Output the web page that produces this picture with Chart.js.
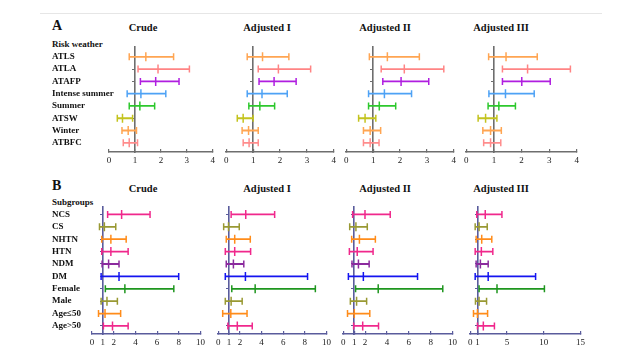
<!DOCTYPE html>
<html>
<head>
<meta charset="utf-8">
<script src="https://cdn.jsdelivr.net/npm/chart.js@4.4.1/dist/chart.umd.min.js"></script>
<style>
  body { margin: 0; background: #fff; width: 628px; height: 354px; position: relative; overflow: hidden;
         font-family: "Liberation Serif", "Times New Roman", serif; }
  .topline { position: absolute; left: 40px; top: 13px; width: 562px; height: 1px; background: #e6e6e6; }
  .txt { position: absolute; font-weight: bold; color: #111; white-space: nowrap; line-height: 1; transform: translateY(-50%); }
  .ttl { position: absolute; font-weight: bold; color: #111; white-space: nowrap; line-height: 1; font-size: 10.5px; transform: translate(-50%, -50%); }
  canvas { position: absolute; }
</style>
</head>
<body>
<div class="topline"></div>
<div class="txt" style="left:52px; top:26px; font-size:14px;">A</div>
<div class="txt" style="left:52px; top:186px; font-size:14px;">B</div>
<div class="txt" style="left:52px; top:44px; font-size:9px;">Risk weather</div>
<div class="txt" style="left:52px; top:202px; font-size:9px;">Subgroups</div>
<div class="ttl" style="left:143px; top:28px;">Crude</div>
<div class="ttl" style="left:267px; top:28px;">Adjusted I</div>
<div class="ttl" style="left:385px; top:28px;">Adjusted II</div>
<div class="ttl" style="left:501px; top:28px;">Adjusted III</div>
<div class="ttl" style="left:143px; top:189px;">Crude</div>
<div class="ttl" style="left:267px; top:189px;">Adjusted I</div>
<div class="ttl" style="left:385px; top:189px;">Adjusted II</div>
<div class="ttl" style="left:501px; top:189px;">Adjusted III</div>
<script>
// Panel A: risk weather (odds ratio with 95% CI)
const weatherLabels = ['ATLS', 'ATLA', 'ATAFP', 'Intense summer', 'Summer', 'ATSW', 'Winter', 'ATBFC'];

const weatherCrudeLo = [0.78, 1.12, 1.21, 0.70, 0.78, 0.32, 0.50, 0.55];
const weatherCrudeOR = [1.42, 1.89, 1.80, 1.23, 1.19, 0.52, 0.74, 0.78];
const weatherCrudeHi = [2.49, 3.10, 2.70, 2.19, 1.76, 0.91, 1.06, 1.10];

const weatherAdj1Lo = [0.78, 1.19, 1.22, 0.78, 0.84, 0.41, 0.59, 0.63];
const weatherAdj1OR = [1.35, 1.94, 1.78, 1.33, 1.25, 0.63, 0.83, 0.85];
const weatherAdj1Hi = [2.33, 3.14, 2.60, 2.27, 1.80, 1.00, 1.19, 1.19];

const weatherAdj2Lo = [0.86, 1.30, 1.36, 0.83, 0.83, 0.46, 0.64, 0.64];
const weatherAdj2OR = [1.53, 2.16, 2.04, 1.42, 1.23, 0.70, 0.89, 0.89];
const weatherAdj2Hi = [2.72, 3.63, 3.07, 2.43, 1.84, 1.10, 1.28, 1.22];

const weatherAdj3Lo = [0.81, 1.31, 1.31, 0.82, 0.79, 0.43, 0.60, 0.63];
const weatherAdj3OR = [1.44, 2.22, 2.01, 1.42, 1.18, 0.70, 0.88, 0.88];
const weatherAdj3Hi = [2.57, 3.77, 3.04, 2.46, 1.78, 1.11, 1.27, 1.25];

const weatherTicks = [0, 1, 2, 3, 4];

// Panel B: subgroups
const groupLabels = ['NCS', 'CS', 'NHTN', 'HTN', 'NDM', 'DM', 'Female', 'Male', 'Age\u226450', 'Age>50'];

const groupCrudeLo = [1.44, 0.69, 0.90, 0.90, 0.93, 0.84, 1.23, 0.84, 0.60, 1.05];
const groupCrudeOR = [2.73, 1.14, 1.74, 1.74, 1.53, 2.49, 3.03, 1.38, 1.20, 1.89];
const groupCrudeHi = [5.35, 2.19, 3.15, 3.33, 2.49, 7.99, 7.54, 2.34, 2.64, 3.33];

const groupAdj1Lo = [1.19, 0.50, 0.74, 0.65, 0.74, 0.65, 1.25, 0.65, 0.41, 0.89];
const groupAdj1OR = [2.54, 0.95, 1.52, 1.52, 1.40, 2.51, 3.41, 1.19, 1.16, 1.76];
const groupAdj1Hi = [5.21, 1.94, 2.96, 2.99, 2.36, 8.25, 8.97, 2.21, 2.66, 3.14];

const groupAdj2Lo = [0.86, 0.59, 0.77, 0.56, 0.80, 0.47, 1.13, 0.65, 0.39, 0.95];
const groupAdj2OR = [1.99, 1.16, 1.48, 1.28, 1.39, 1.84, 3.20, 1.22, 1.01, 1.78];
const groupAdj2Hi = [4.30, 2.20, 2.94, 2.73, 2.37, 6.80, 9.11, 2.14, 2.43, 3.23];

const groupAdj3Lo = [0.89, 0.67, 0.80, 0.67, 0.80, 0.67, 1.20, 0.71, 0.44, 0.98];
const groupAdj3OR = [2.04, 1.20, 1.56, 1.51, 1.38, 2.44, 3.64, 1.20, 0.98, 1.78];
const groupAdj3Hi = [4.31, 2.31, 2.93, 3.07, 2.44, 8.89, 10.09, 2.22, 2.36, 3.29];

const groupTicks = [0, 1, 2, 4, 6, 8, 10];
const groupTicksWide = [0, 1, 5, 10, 15];

// colours
const weatherColors = ['#ffa552', '#ff8484', '#b01ee0', '#4ea2f5', '#2dc82d', '#c3c31e', '#ffa552', '#ff8c8c'];
const groupColors = ['#f0288c', '#999933', '#ff8c1a', '#f0288c', '#8b2a9e', '#1414f0', '#1e961e', '#999933', '#ff8c1a', '#f0288c'];

const FONT = '"Liberation Serif", "Times New Roman", serif';

function forestChart(o) {
  const canvas = document.createElement('canvas');
  canvas.width = o.w;
  canvas.height = o.h;
  canvas.style.left = o.left + 'px';
  canvas.style.top = o.top + 'px';
  document.body.appendChild(canvas);

  const rowTicks = s => { s.ticks = o.labels.map((_, i) => ({ value: i })); };

  const datasets = o.labels.map((lab, i) => ({
    label: lab,
    data: [{ x: o.lo[i], y: i }, { x: o.or[i], y: i }, { x: o.hi[i], y: i }],
    showLine: true,
    borderColor: o.colors[i],
    borderWidth: 1.8,
    pointStyle: 'line',
    pointRotation: 90,
    pointRadius: [3.5, 4.5, 3.5],
    pointBorderColor: o.colors[i],
    pointBorderWidth: 1.5,
    yAxisID: 'y'
  }));

  return new Chart(canvas.getContext('2d'), {
    type: 'scatter',
    data: { datasets },
    options: {
      responsive: false,
      animation: false,
      events: [],
      layout: { padding: { top: 7, bottom: 0, left: o.labelW ? 0 : 8, right: 8 } },
      plugins: { legend: { display: false }, tooltip: { enabled: false } },
      scales: {
        x: {
          type: 'linear', position: 'bottom', min: 0, max: o.ticks[o.ticks.length - 1],
          afterBuildTicks: s => { s.ticks = o.ticks.map(v => ({ value: v })); },
          afterFit: s => { s.height = 20; },
          border: { display: true, color: o.axisColor, width: 1.6 },
          grid: { display: true, drawOnChartArea: false, drawTicks: true, tickLength: -3, color: o.axisColor, lineWidth: 1.2 },
          ticks: { autoSkip: false, maxRotation: 0, padding: 6, color: '#222', font: { family: FONT, size: 9 } }
        },
        y: {
          // row labels: mirrored so long names may run into the plot area without being clipped
          type: 'linear', position: 'left', reverse: true, min: o.yMin, max: o.yMax,
          display: !!o.labelW,
          afterBuildTicks: rowTicks,
          afterFit: s => { s.width = o.labelW || 0; },
          border: { display: false },
          grid: { display: false, drawTicks: false },
          ticks: {
            mirror: true, crossAlign: 'near', padding: -(o.labelW || 0),
            autoSkip: false, color: '#111',
            font: { family: FONT, size: 9, weight: 'bold' },
            callback: v => o.labels[v]
          }
        },
        yr: {
          type: 'linear', position: { x: 1 }, reverse: true, min: o.yMin, max: o.yMax,
          afterBuildTicks: rowTicks,
          border: { display: true, color: o.axisColor, width: 1.6 },
          grid: { display: true, drawOnChartArea: false, drawTicks: true, tickLength: 2, color: o.axisColor, lineWidth: 1 },
          ticks: { display: false }
        }
      }
    }
  });
}

document.addEventListener('DOMContentLoaded', function() {
  const gray = '#6e6e6e';
  const slate = '#5a5c9c';

  // row A
  const a = { labels: weatherLabels, colors: weatherColors, ticks: weatherTicks, axisColor: gray,
              yMin: -0.8, yMax: 7.75, top: 40, h: 132 };
  forestChart({ ...a, left: 52, w: 169, labelW: 57, lo: weatherCrudeLo, or: weatherCrudeOR, hi: weatherCrudeHi });
  forestChart({ ...a, left: 218, w: 124, lo: weatherAdj1Lo, or: weatherAdj1OR, hi: weatherAdj1Hi });
  forestChart({ ...a, left: 338, w: 124, lo: weatherAdj2Lo, or: weatherAdj2OR, hi: weatherAdj2Hi });
  forestChart({ ...a, left: 458, w: 127, lo: weatherAdj3Lo, or: weatherAdj3OR, hi: weatherAdj3Hi });

  // row B
  const b = { labels: groupLabels, colors: groupColors, axisColor: slate,
              yMin: -0.6, yMax: 9.65, top: 200, h: 154 };
  forestChart({ ...b, ticks: groupTicks, left: 52, w: 159, labelW: 40, lo: groupCrudeLo, or: groupCrudeOR, hi: groupCrudeHi });
  forestChart({ ...b, ticks: groupTicks, left: 210, w: 127, lo: groupAdj1Lo, or: groupAdj1OR, hi: groupAdj1Hi });
  forestChart({ ...b, ticks: groupTicks, left: 335, w: 128, lo: groupAdj2Lo, or: groupAdj2OR, hi: groupAdj2Hi });
  forestChart({ ...b, ticks: groupTicksWide, left: 462, w: 129, lo: groupAdj3Lo, or: groupAdj3OR, hi: groupAdj3Hi });
});
</script>
</body>
</html>
